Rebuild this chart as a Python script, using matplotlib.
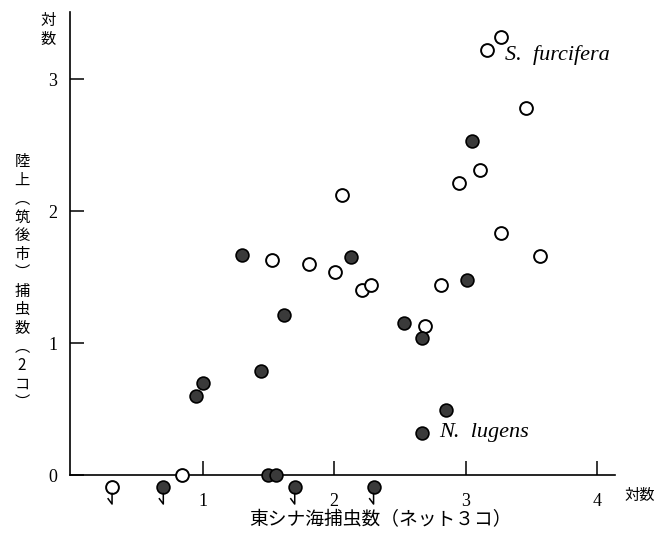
import numpy as np
import matplotlib
matplotlib.use("Agg")
import matplotlib.pyplot as plt

plt.rcParams["font.family"] = ["Noto Sans CJK JP", "DejaVu Sans"]

# -------------------------------------------------
# Datos (log de capturas)
# -------------------------------------------------
# Sogatella furcifera (círculos abiertos)
sf_x = [0.84, 1.53, 1.81, 2.01, 2.06, 2.21, 2.28, 2.81, 2.69, 2.95,
        3.11, 3.16, 3.27, 3.46, 3.27, 3.57]
sf_y = [0.00, 1.63, 1.60, 1.54, 2.12, 1.40, 1.44, 1.44, 1.13, 2.21,
        2.31, 3.22, 3.32, 2.78, 1.83, 1.66]

# Nilaparvata lugens (círculos rellenos)
nl_x = [0.95, 1.00, 1.30, 1.44, 1.50, 1.56, 1.62, 2.13, 2.53, 2.67,
        3.01, 3.05, 2.85, 2.67]
nl_y = [0.60, 0.70, 1.67, 0.79, 0.00, 0.00, 1.21, 1.65, 1.15, 1.04,
        1.48, 2.53, 0.49, 0.32]

# Capturas nulas en tierra (marcadas con flecha bajo el eje)
sf_cero_x = [0.31]
nl_cero_x = [0.70, 1.70, 2.30]

x_ticks = [1, 2, 3, 4]
y_ticks = [0, 1, 2, 3]

ylabel_chars = ["陸", "上", "︵", "筑", "後", "市", "︶",
                "捕", "虫", "数", "︵", "2", "コ", "︶"]
xlabel = "東シナ海捕虫数（ネット３コ）"
eje_unidad = "対数"

SERIF = "Liberation Serif"


# -------------------------------------------------
# Marcadores
# -------------------------------------------------
def dibujar_puntos(ax, xs, ys, relleno):
    if relleno:
        ax.scatter(xs, ys, s=85, facecolor="#3a3a3a", edgecolor="black",
                   linewidth=1.2, zorder=3, clip_on=False)
    else:
        ax.scatter(xs, ys, s=85, facecolor="white", edgecolor="black",
                   linewidth=1.4, zorder=3, clip_on=False)


def dibujar_flechas(ax, xs, relleno):
    y0 = -0.09
    dibujar_puntos(ax, xs, [y0] * len(xs), relleno)
    for x in xs:
        ax.plot([x, x, x - 0.03], [y0 - 0.05, y0 - 0.13, y0 - 0.09],
                color="black", lw=1.1, clip_on=False, zorder=3)


# -------------------------------------------------
# Figura
# -------------------------------------------------
fig = plt.figure(figsize=(6.67, 5.34), dpi=100)
ax = fig.add_axes([70 / 667, 1 - 475 / 534, 545 / 667, 463 / 534])

dibujar_puntos(ax, sf_x, sf_y, relleno=False)
dibujar_puntos(ax, nl_x, nl_y, relleno=True)
dibujar_flechas(ax, sf_cero_x, relleno=False)
dibujar_flechas(ax, nl_cero_x, relleno=True)

ax.set_xlim(-0.01, 4.137)
ax.set_ylim(0, 3.508)
ax.spines["top"].set_visible(False)
ax.spines["right"].set_visible(False)
for sp in ("left", "bottom"):
    ax.spines[sp].set_linewidth(1.2)

ax.set_xticks(x_ticks)
ax.set_yticks(y_ticks)
ax.set_xticklabels([str(t) for t in x_ticks], fontfamily=SERIF, fontsize=13)
ax.set_yticklabels([str(t) for t in y_ticks], fontfamily=SERIF, fontsize=13)
ax.tick_params(axis="both", direction="in", length=10, width=1.1)
ax.tick_params(axis="x", pad=13)
ax.tick_params(axis="y", pad=9)

ax.text(3.30, 3.18, "S.  furcifera", fontfamily=SERIF, fontstyle="italic",
        fontsize=16, ha="left", va="center")
ax.text(2.80, 0.32, "N.  lugens", fontfamily=SERIF, fontstyle="italic",
        fontsize=16, ha="left", va="center")

# Etiquetas de ejes
fig.text(22 / 667, 1 - 282 / 534, "\n".join(ylabel_chars), fontsize=11,
         ha="center", va="center", linespacing=1.12)
fig.text(48 / 667, 1 - 30 / 534, "\n".join(eje_unidad), fontsize=11,
         ha="center", va="center", linespacing=1.1)
fig.text(640 / 667, 1 - 495 / 534, eje_unidad, fontsize=11,
         ha="center", va="center")
fig.text(380 / 667, 1 - 520 / 534, xlabel, fontsize=13.5,
         ha="center", va="center")

fig.savefig("out.png", dpi=100)
